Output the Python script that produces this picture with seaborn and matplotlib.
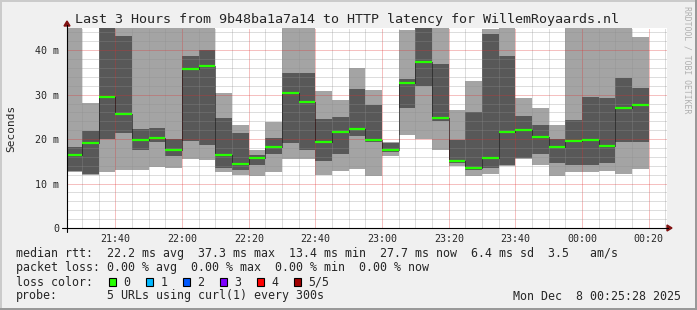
import numpy as np
import pandas as pd
import matplotlib
matplotlib.use("Agg")
import matplotlib.pyplot as plt
import seaborn as sns
from matplotlib.patches import Rectangle, Polygon
from matplotlib.lines import Line2D

sns.set_style("white")
plt.rcParams["font.family"] = ["DejaVu Sans Mono", "DejaVu Sans"]

# ---------------- data ----------------
window_start = "2025-12-07 21:25:28"
window_end = "2025-12-08 00:25:28"
first_full_bin = "2025-12-07 21:30:00"
n_bins = 35
bin_freq = "5min"

# sorted ping values per 5-minute bin (ms); values above 45 are clipped off the top
ping_min = [12.6, 12.0, 12.6, 13.1, 13.1, 13.8, 13.6, 15.5, 15.3, 12.7,
            12.0, 11.7, 12.6, 15.5, 15.5, 12.0, 12.8, 13.3, 11.6, 16.1,
            20.9, 20.0, 17.6, 14.0, 11.6, 12.2, 13.9, 15.5, 14.2, 11.7,
            12.7, 12.5, 12.9, 12.2, 13.3]
ping_2 = [12.9, 12.2, 20.0, 21.4, 17.6, 19.4, 16.2, 19.6, 18.7, 13.6,
          13.1, 14.2, 16.7, 19.2, 17.6, 15.1, 16.7, 20.7, 19.4, 17.2,
          27.0, 31.9, 24.1, 14.6, 13.1, 13.6, 14.2, 15.8, 16.7, 14.7,
          14.2, 14.2, 14.7, 19.4, 19.4]
median = [16.5, 19.2, 29.5, 25.7, 19.9, 20.3, 17.6, 35.8, 36.5, 16.5,
          14.3, 15.8, 18.2, 30.3, 28.3, 19.4, 21.7, 22.3, 19.8, 17.6,
          32.6, 37.3, 24.8, 15.1, 13.4, 15.8, 21.7, 22.1, 20.5, 18.2,
          19.6, 19.9, 18.5, 27.0, 27.7]
ping_4 = [18.2, 21.8, 48.0, 43.3, 22.2, 22.5, 20.0, 38.6, 40.0, 24.7,
          21.4, 16.4, 20.2, 34.8, 34.8, 24.6, 25.0, 31.2, 27.6, 19.2,
          33.6, 48.0, 36.8, 19.8, 26.1, 43.6, 38.6, 25.3, 23.2, 20.0,
          24.3, 29.4, 29.2, 33.7, 31.5]
ping_max = [48.0, 28.2, 48.0, 48.0, 48.0, 48.0, 48.0, 48.0, 48.0, 30.3,
            23.2, 17.6, 23.9, 48.0, 48.0, 30.8, 28.8, 36.0, 31.0, 19.4,
            44.5, 48.0, 48.0, 26.5, 33.0, 44.8, 48.0, 29.3, 27.0, 23.2,
            48.0, 48.0, 48.0, 48.0, 42.9]

x_tick_times = ["2025-12-07 21:40", "2025-12-07 22:00", "2025-12-07 22:20",
                "2025-12-07 22:40", "2025-12-07 23:00", "2025-12-07 23:20",
                "2025-12-07 23:40", "2025-12-08 00:00", "2025-12-08 00:20"]
x_tick_labels = ["21:40", "22:00", "22:20", "22:40", "23:00", "23:20",
                 "23:40", "00:00", "00:20"]
y_ticks = [0, 10, 20, 30, 40]
y_tick_labels = ["0", "10 m", "20 m", "30 m", "40 m"]

title = "Last 3 Hours from 9b48ba1a7a14 to HTTP latency for WillemRoyaards.nl"
legend_rtt = "median rtt:  22.2 ms avg  37.3 ms max  13.4 ms min  27.7 ms now  6.4 ms sd  3.5   am/s"
legend_loss = "packet loss: 0.00 % avg  0.00 % max  0.00 % min  0.00 % now"
loss_names = ["0", "1", "2", "3", "4", "5/5"]
loss_colors = ["#26ff00", "#00b8ff", "#0059ff", "#7e00ff", "#ff0000", "#a10000"]
probe_text = "5 URLs using curl(1) every 300s"
date_text = "Mon Dec  8 00:25:28 2025"
watermark = "RRDTOOL / TOBI OETIKER"

# ---------------- geometry helpers ----------------
W, H = 697, 310
def fx(x):
    return x / W
def fy(y):
    return 1 - y / H

t0 = pd.Timestamp(window_start)
def minutes(ts):
    return (pd.Timestamp(ts) - t0).total_seconds() / 60.0

bin_starts = pd.date_range(first_full_bin, periods=n_bins, freq=bin_freq)
edges = np.array([0.0] + [minutes(t) for t in bin_starts])
xmax = minutes(window_end)
minor_x = [minutes(t) for t in pd.date_range(first_full_bin, window_end, freq="5min")]
major_x = [minutes(t) for t in x_tick_times]

# ---------------- figure ----------------
fig = plt.figure(figsize=(W / 100, H / 100), dpi=100, facecolor="#f0f0f0")
ax = fig.add_axes([fx(67), fy(228), 600 / W, 200 / H])
ax.set_facecolor("white")

ax.stairs(ping_max, edges, baseline=ping_min, fill=True, color="#a4a4a4", lw=0, zorder=1)
ax.stairs(ping_4, edges, baseline=ping_2, fill=True, color="#585858", lw=0, zorder=1.1)
ax.stairs(median, edges, baseline=None, color="black", lw=0.72,
          linestyle=(0, (1, 1)), zorder=3)
ax.hlines(median, edges[:-1], edges[1:], color="#26ff00", lw=1.6, zorder=4)

ax.set_xlim(0, xmax)
ax.set_ylim(0, 45)
ax.set_xticks(major_x, labels=x_tick_labels)
ax.set_xticks(minor_x, minor=True)
ax.set_yticks(y_ticks, labels=y_tick_labels)
ax.set_yticks(np.arange(0, 45, 2), minor=True)

ax.set_axisbelow(False)
ax.grid(which="minor", color="#8f8f8f", alpha=0.3, lw=0.72, linestyle=(0, (1, 1)),
        antialiased=False)
ax.grid(which="major", color="#de3030", alpha=0.3, lw=0.72, linestyle=(0, (1, 1)),
        antialiased=False)

ax.tick_params(axis="x", which="major", length=2.2, width=0.72, color="black",
               direction="out", labelsize=7.2, pad=2.0)
ax.tick_params(axis="x", which="minor", length=1.4, width=0.72, color="black", direction="out")
ax.tick_params(axis="y", which="major", length=3.0, width=0.72, color="black",
               direction="out", labelsize=7.2, pad=2.6)
ax.tick_params(axis="y", which="minor", length=1.4, width=0.72, color="black", direction="out")
for s in ax.spines.values():
    s.set_visible(False)

# axis lines with arrows
fig.add_artist(Line2D([fx(62), fx(668)], [fy(228), fy(228)], color="black", lw=0.8))
fig.add_artist(Line2D([fx(67), fx(67)], [fy(232), fy(25)], color="black", lw=0.8))
fig.add_artist(Polygon([(fx(667), fy(225)), (fx(667), fy(231)), (fx(672), fy(228))],
                       closed=True, color="#801010", transform=fig.transFigure))
fig.add_artist(Polygon([(fx(64), fy(26)), (fx(70), fy(26)), (fx(67), fy(21))],
                       closed=True, color="#801010", transform=fig.transFigure))

# frame shading
fig.add_artist(Rectangle((0, 0), 1, 2 / H, transform=fig.transFigure, color="#999999", lw=0))
fig.add_artist(Rectangle((1 - 2 / W, 0), 2 / W, 1, transform=fig.transFigure, color="#999999", lw=0))
fig.add_artist(Rectangle((0, 1 - 2 / H), 1 - 2 / W, 2 / H, transform=fig.transFigure, color="#cbcbcb", lw=0))
fig.add_artist(Rectangle((0, 2 / H), 2 / W, 1 - 4 / H, transform=fig.transFigure, color="#cbcbcb", lw=0))

# texts
fig.text(fx(347), fy(19), title, ha="center", va="center", fontsize=9.6)
fig.text(fx(11), fy(128), "Seconds", ha="center", va="center", rotation=90, fontsize=8)
fig.text(fx(687), fy(60), watermark, ha="center", va="center", rotation=-90,
         fontsize=5.9, color="#b0b0b0")

fs = 8.4
fig.text(fx(16), fy(254), legend_rtt, ha="left", va="center", fontsize=fs)
fig.text(fx(16), fy(268), legend_loss, ha="left", va="center", fontsize=fs)
fig.text(fx(16), fy(282), "loss color:", ha="left", va="center", fontsize=fs)
box_x = [108.5, 145.5, 182.5, 219.5, 256.5, 293.5]
for bx, name, col in zip(box_x, loss_names, loss_colors):
    fig.add_artist(Rectangle((fx(bx), fy(286)), 7 / W, 8 / H, transform=fig.transFigure,
                             facecolor=col, edgecolor="black", lw=0.8))
    fig.text(fx(bx + 15), fy(282), name, ha="left", va="center", fontsize=fs)
fig.text(fx(16), fy(296), "probe:", ha="left", va="center", fontsize=fs)
fig.text(fx(107), fy(296), probe_text, ha="left", va="center", fontsize=fs)
fig.text(fx(681), fy(296), date_text, ha="right", va="center", fontsize=fs)

fig.savefig("out.png", dpi=100, facecolor=fig.get_facecolor())
